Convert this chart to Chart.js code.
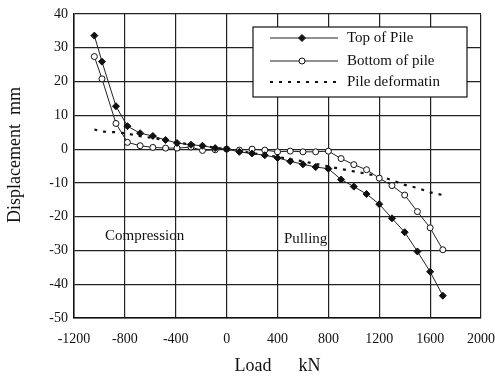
<!DOCTYPE html>
<html>
<head>
<meta charset="utf-8">
<script src="https://cdn.jsdelivr.net/npm/chart.js@4.4.1/dist/chart.umd.min.js"></script>
<style>
  html, body { margin: 0; padding: 0; background: #fff; }
  canvas { display: block; }
</style>
</head>
<body>
<canvas id="pileChart" width="495" height="377"></canvas>
<script>
// Load steps (kN)
const loads = [-1040, -980, -870, -780, -680, -580, -480, -390, -280, -190, -90, 0,
  100, 200, 300, 400, 500, 600, 700, 800, 900, 1000, 1100, 1200, 1300, 1400, 1500, 1600, 1700];

// Displacement (mm)
const topOfPile = [33.6, 25.9, 12.7, 6.8, 4.7, 3.9, 2.7, 1.8, 1.3, 1.0, 0.3, 0,
  -0.8, -1.3, -1.8, -2.6, -3.6, -4.5, -5.3, -5.8, -9.0, -11.1, -13.3, -16.3, -20.5, -24.6, -30.3, -36.3, -43.4];
const bottomOfPile = [27.4, 20.8, 7.6, 2.0, 1.0, 0.5, 0.3, 0.3, 0.6, -0.4, -0.2, 0,
  -0.3, 0, -0.3, -0.8, -0.6, -0.8, -0.8, -0.6, -2.8, -4.6, -6.1, -8.6, -10.8, -13.6, -18.5, -23.3, -29.8];
const pileDeformation = [5.8, 5.2, 5.0, 4.6, 3.8, 3.3, 2.6, 1.9, 1.4, 1.0, 0.4, 0,
  -0.5, -1.2, -1.7, -2.3, -3.0, -3.6, -4.4, -5.1, -5.9, -6.6, -7.3, -8.0, -9.2, -10.6, -11.5, -12.8, -13.6];

const xTicks = [-1200, -800, -400, 0, 400, 800, 1200, 1600, 2000];
const yTicks = [-50, -40, -30, -20, -10, 0, 10, 20, 30, 40];

const serif = "'Liberation Serif', 'DejaVu Serif', serif";

function toPoints(values) {
  return loads.map((x, i) => ({ x: x, y: values[i] }));
}

// Legend box, y title and the two region labels
const overlayPlugin = {
  id: "overlay",
  afterDraw(chart) {
    const ctx = chart.ctx;
    ctx.save();
    ctx.fillStyle = "#111";
    ctx.textBaseline = "middle";

    // y axis title, a bit above the plot centre like the original
    ctx.save();
    ctx.translate(15, 155);
    ctx.rotate(-Math.PI / 2);
    ctx.textAlign = "center";
    ctx.font = "18px " + serif;
    ctx.fillText("Displacement\u2002mm", 0, 0);
    ctx.restore();

    ctx.font = "15px " + serif;
    ctx.textAlign = "left";
    ctx.fillText("Compression", 105, 236);
    ctx.fillText("Pulling", 284, 239);

    // legend
    const bx = 253, by = 27, bw = 214, bh = 70;
    ctx.fillStyle = "#fff";
    ctx.fillRect(bx, by, bw, bh);
    ctx.strokeStyle = "#111";
    ctx.lineWidth = 1.2;
    ctx.strokeRect(bx, by, bw, bh);

    const rows = [38, 61, 82];
    chart.data.datasets.forEach((ds, i) => {
      const y = rows[i];
      ctx.strokeStyle = ds.borderColor;
      ctx.lineWidth = ds.borderWidth;
      ctx.setLineDash(ds.borderDash || []);
      ctx.beginPath();
      ctx.moveTo(270, y);
      ctx.lineTo(338, y);
      ctx.stroke();
      ctx.setLineDash([]);
      if (ds.pointRadius > 0) {
        const r = ds.pointRadius;
        ctx.fillStyle = ds.pointBackgroundColor;
        ctx.strokeStyle = ds.pointBorderColor;
        ctx.lineWidth = 1;
        ctx.beginPath();
        if (ds.pointStyle === "circle") {
          ctx.arc(302, y, r, 0, Math.PI * 2);
        } else {
          ctx.moveTo(302, y - r); ctx.lineTo(302 + r, y);
          ctx.lineTo(302, y + r); ctx.lineTo(302 - r, y);
          ctx.closePath();
        }
        ctx.fill();
        ctx.stroke();
      }
      ctx.fillStyle = "#111";
      ctx.font = "15px " + serif;
      ctx.fillText(ds.label, 347, y);
    });
    ctx.restore();
  }
};

const ctx = document.getElementById("pileChart").getContext("2d");
new Chart(ctx, {
  type: "line",
  data: {
    datasets: [
      {
        label: "Top of Pile",
        data: toPoints(topOfPile),
        borderColor: "#222",
        borderWidth: 1,
        pointStyle: "rectRot",
        pointRadius: 3.5,
        pointBackgroundColor: "#111",
        pointBorderColor: "#111",
        tension: 0
      },
      {
        label: "Bottom of pile",
        data: toPoints(bottomOfPile),
        borderColor: "#222",
        borderWidth: 1,
        pointStyle: "circle",
        pointRadius: 3,
        pointBackgroundColor: "#fff",
        pointBorderColor: "#111",
        tension: 0
      },
      {
        label: "Pile deformatin",
        data: toPoints(pileDeformation),
        borderColor: "#111",
        borderWidth: 2.2,
        borderDash: [3, 6],
        pointRadius: 0,
        tension: 0
      }
    ]
  },
  options: {
    responsive: false,
    animation: false,
    layout: { padding: { top: 14, right: 14, left: 0, bottom: 0 } },
    plugins: {
      legend: { display: false },
      tooltip: { enabled: false }
    },
    scales: {
      x: {
        type: "linear",
        min: -1200,
        max: 2000,
        afterBuildTicks: (scale) => { scale.ticks = xTicks.map((v) => ({ value: v })); },
        afterFit: (scale) => {
          scale.height = 59;
          scale.paddingLeft = 0;
          scale.paddingRight = 0;
        },
        grid: { color: "#222", lineWidth: 1.2, drawTicks: false },
        border: { color: "#111", width: 1.5 },
        ticks: {
          color: "#111",
          padding: 13,
          font: { family: serif, size: 14 },
          callback: (v) => String(v)
        },
        title: {
          display: true,
          text: "Load\u2003\u2002kN",
          color: "#111",
          padding: { top: 0, bottom: 0 },
          font: { family: serif, size: 18 }
        }
      },
      y: {
        min: -50,
        max: 40,
        afterBuildTicks: (scale) => { scale.ticks = yTicks.map((v) => ({ value: v })); },
        afterFit: (scale) => {
          scale.width = 74;
          scale.paddingTop = 0;
          scale.paddingBottom = 0;
        },
        grid: { color: "#222", lineWidth: 1.2, drawTicks: false },
        border: { color: "#111", width: 1.5 },
        ticks: {
          color: "#111",
          padding: 6,
          font: { family: serif, size: 14 },
          callback: (v) => String(v)
        }
      }
    }
  },
  plugins: [overlayPlugin]
});
</script>
</body>
</html>
